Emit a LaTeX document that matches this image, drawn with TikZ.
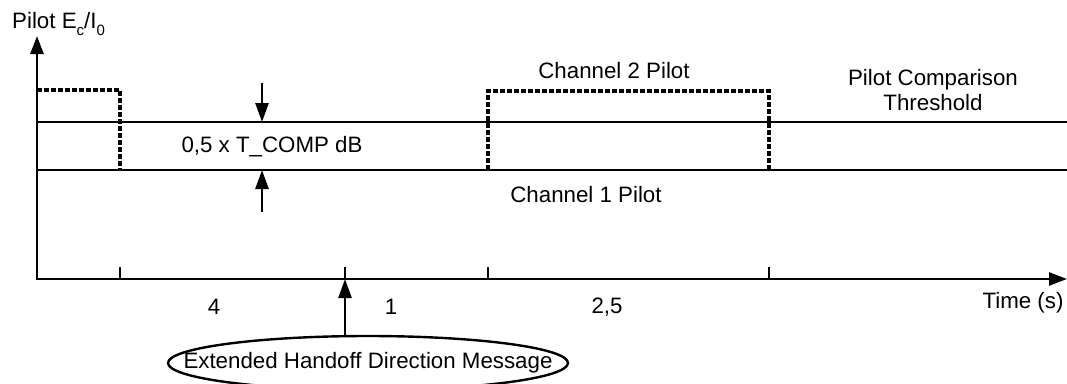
\documentclass[tikz,border=0pt]{standalone}
\usepackage{fontspec}
\setmainfont{Liberation Sans}
\usetikzlibrary{arrows.meta,shapes.geometric}
\newcommand{\lowsub}[1]{\raisebox{-0.32em}{\fontsize{15}{15}\selectfont #1}}
\begin{document}
\begin{tikzpicture}[x=1pt,y=-1pt,
  every node/.style={font=\fontsize{22.3}{25}\selectfont, inner sep=0pt},
  axisline/.style={line width=2.6pt},
  level/.style={line width=2.4pt},
  pilot/.style={line width=3.2pt, dash pattern=on 5pt off 2pt},
  tickmark/.style={line width=2.4pt},
  headtip/.style={-{Triangle[length=19pt,width=13pt]}},
  lbl/.style={anchor=center}]
\useasboundingbox (0,0) rectangle (1067,383);

% axes
\coordinate (origin) at (37,279);
\coordinate (ytop) at (37,36);
\coordinate (xend) at (1067,279);
\draw[axisline, {Triangle[length=18pt,width=13pt]}-{Triangle[length=18pt,width=13pt]}] (ytop) -- (origin) -- (xend);
\node[anchor=base west] (ylabel) at (12,28) {Pilot E\lowsub{c}/I\lowsub{0}};
\node (xlabel) at (1023,303) {Time (s)};

% threshold band
\coordinate (upL) at (37,122);
\coordinate (upR) at (1067,122);
\coordinate (loL) at (37,170);
\coordinate (loR) at (1067,170);
\draw[level] (upL) -- (upR);
\draw[level] (loL) -- (loR);

% pilot strength traces
\coordinate (p1a) at (37,90);
\coordinate (p1b) at (120,90);
\coordinate (p1c) at (120,170);
\draw[pilot] (p1a) -- (p1b) -- (p1c);
\coordinate (p2a) at (488,170);
\coordinate (p2b) at (488,91);
\coordinate (p2c) at (769,91);
\coordinate (p2d) at (769,170);
\draw[pilot] (p2a) -- (p2b) -- (p2c) -- (p2d);

% band width markers
\coordinate (mTop) at (262,83);
\coordinate (mUp) at (262,122);
\coordinate (mLo) at (262,170);
\coordinate (mBot) at (262,212);
\draw[axisline, headtip] (mTop) -- (mUp);
\draw[axisline, headtip] (mBot) -- (mLo);

% ticks on the time axis
\foreach \n/\x in {t1/120, t2/345, t3/488, t4/769} {
  \coordinate (\n) at (\x,279);
  \draw[tickmark] (\x,267) -- (\n);
}

% labels
\node[lbl] (band) at (272,147) {0,5 x T\_COMP dB};
\node[lbl] (ch2) at (614,71) {Channel 2 Pilot};
\node[lbl] (ch1) at (586,195) {Channel 1 Pilot};
\node[lbl, align=center] (thr) at (933,90) {Pilot Comparison\\[-0.6pt]Threshold};
\node[lbl] (d1) at (214,307) {4};
\node[lbl] (d2) at (391,307) {1};
\node[lbl] (d3) at (607,307) {2,5};

% handoff message
\node[ellipse, draw, line width=2.4pt, inner xsep=-44pt, inner ysep=0pt,
      minimum width=400pt, minimum height=54pt] (msg) at (368,363) {Extended Handoff Direction Message};
\draw[axisline, headtip] (t2 |- msg.north) -- (t2);
\end{tikzpicture}
\end{document}
